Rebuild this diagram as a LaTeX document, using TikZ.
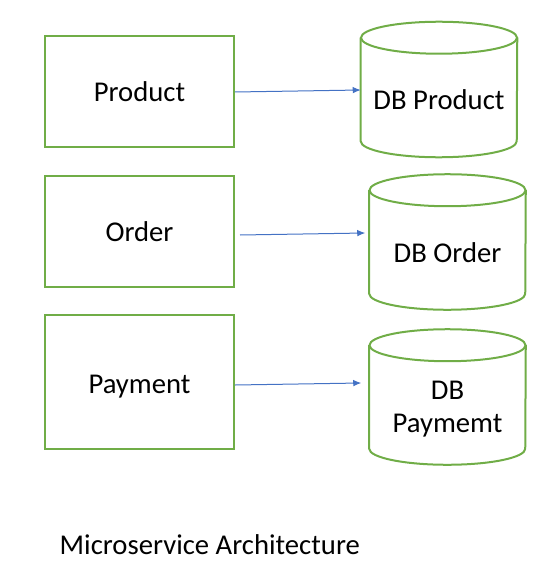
\documentclass[tikz,border=0pt]{standalone}
\usepackage{fontspec}
\setmainfont{Carlito}
\usepackage{tikz}
\usetikzlibrary{calc, positioning, arrows.meta, shapes.geometric}
\definecolor{srvgreen}{RGB}{112,173,71}
\definecolor{linkblue}{RGB}{68,114,196}
\tikzset{
    service/.style={rectangle, draw=srvgreen, line width=1.5pt, fill=white, align=center, minimum width=141.75pt, minimum height=83.25pt, font=\fontsize{21.5}{25}\selectfont},
    storebox/.style={rectangle, minimum width=117pt, minimum height=101.25pt, inner sep=0pt},
    storeline/.style={draw=srvgreen, line width=1.5pt},
    dbtext/.style={font=\fontsize{21.5}{25}\selectfont, align=center},
    arrow/.style={-{Latex[length=6pt, width=5pt]}, draw=linkblue, line width=0.75pt}
}
\begin{document}
\begin{tikzpicture}[x=0.75pt, y=-0.75pt]
        \useasboundingbox (0,0) rectangle (552,585);

        % Services
        \node[service] (prod) at (139.5,91.5) {Product};
        \node[service] (order) at (139.5,231.5) {Order};
        \node[service, minimum height=100.5pt, text height=20pt] (pay) at (139.5,382) {Payment};

        % Databases
        \node[storebox] (dbprod) at (439,89.5) {};
        \node[storebox] (dborder) at (447.5,242) {};
        \node[storebox] (dbpay) at (447.5,397) {};
        \foreach \db in {dbprod, dborder, dbpay} {
            \draw[storeline] ($(\db.north west)+(0,16)$) -- ($(\db.south west)+(0,-16)$)
                arc[start angle=180, end angle=0, x radius=78, y radius=16]
                -- ($(\db.north east)+(0,16)$);
            \draw[storeline] ($(\db.north)+(0,16)$) ellipse[x radius=78, y radius=16];
        }
        \node[dbtext] (dbprodtxt) at ($(dbprod.center)+(0,10)$) {DB Product};
        \node[dbtext] (dbordertxt) at ($(dborder.center)+(0,11)$) {DB Order};
        \node[dbtext] (dbpaytxt) at ($(dbpay.center)+(0,12)$) {DB\\Paymemt};

        % Edges
        \draw[arrow] ($(prod.east)+(0,0.5)$) -- ($(dbprod.west)+(0,0.5)$);
        \draw[arrow] ($(order.east)+(5,3.5)$) -- ($(dborder.west)+(-4,-9)$);
        \draw[arrow] ($(pay.east)+(0,3)$) -- ($(dbpay.west)+(-8,-14)$);

        % Caption
        \node[anchor=west, font=\fontsize{21.5}{25}\selectfont] (caption) at (55,545) {Microservice Architecture};

    \end{tikzpicture}
\end{document}
